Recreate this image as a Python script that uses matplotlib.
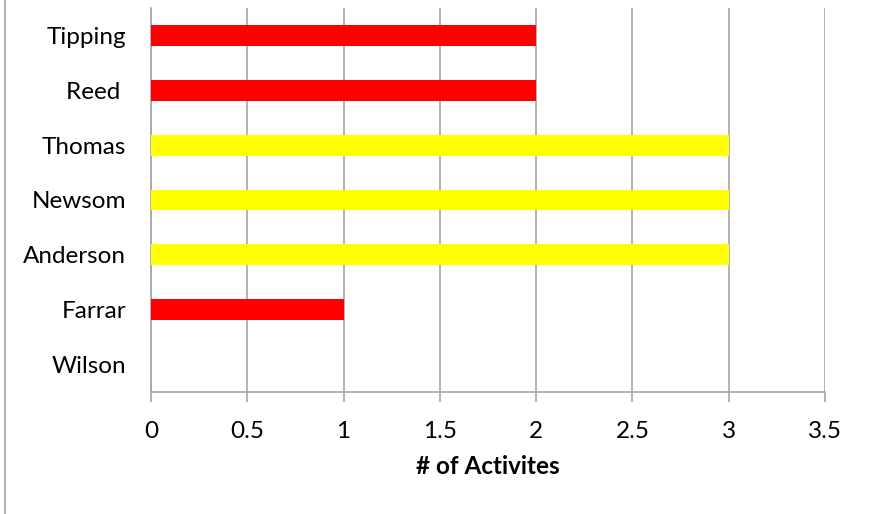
import matplotlib
matplotlib.use("Agg")
import matplotlib.pyplot as plt
from matplotlib.lines import Line2D

names = ["Wilson", "Farrar", "Anderson", "Newsom", "Thomas", "Reed ", "Tipping"]
activities = [0, 1, 3, 3, 3, 2, 2]
colors = ["#FF0000", "#FF0000", "#FFFF00", "#FFFF00", "#FFFF00", "#FF0000", "#FF0000"]
xticks = [0, 0.5, 1, 1.5, 2, 2.5, 3, 3.5]
xticklabels = ["0", "0.5", "1", "1.5", "2", "2.5", "3", "3.5"]

plt.rcParams['font.family'] = ['Lato', 'DejaVu Sans']

W, H = 869, 514
fig = plt.figure(figsize=(W / 100, H / 100), dpi=100)
ax = fig.add_axes([151 / W, 1 - 392 / H, (825 - 151) / W, (392 - 8) / H])

fs = 17.5
ypos = list(range(len(names)))
ax.barh(ypos, activities, height=0.38, color=colors, zorder=3)
ax.set_ylim(-0.5, len(names) - 0.5)
ax.set_xlim(0, 3.5)
ax.set_xticks(xticks)
ax.set_xticklabels(xticklabels, fontsize=fs)
ax.set_yticks(ypos)
ax.set_yticklabels(names, fontsize=fs)
ax.tick_params(axis='y', length=0, pad=18)
ax.tick_params(axis='x', length=7, width=1.2, color="#A6A6A6", pad=14)
ax.grid(axis='x', color="#A6A6A6", linewidth=1.2, zorder=0)
for s in ["top", "right"]:
    ax.spines[s].set_visible(False)
for s in ["left", "bottom"]:
    ax.spines[s].set_color("#A6A6A6")
    ax.spines[s].set_linewidth(1.2)
ax.set_xlabel("# of Activites", fontsize=fs, fontweight="bold", labelpad=9)

fig.add_artist(Line2D([4.5 / W, 4.5 / W], [0, 1], color="#A6A6A6", linewidth=1.2))

fig.savefig("out.png", dpi=100)
